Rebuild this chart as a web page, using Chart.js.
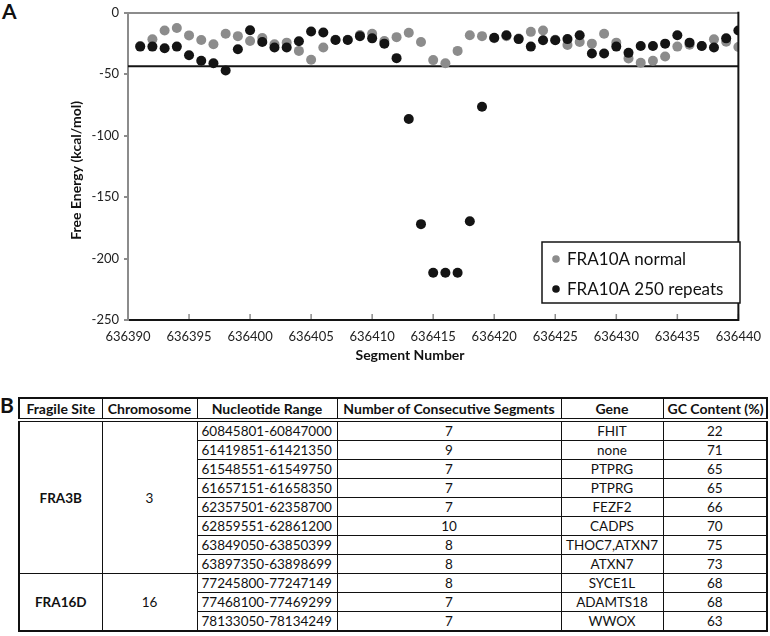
<!DOCTYPE html>
<html><head><meta charset="utf-8">
<script src="https://cdn.jsdelivr.net/npm/chart.js@4.4.1/dist/chart.umd.min.js"></script>
<style>
html,body{margin:0;padding:0;background:#fff;}
body{width:770px;height:636px;position:relative;overflow:hidden;font-family:Lato,sans-serif;color:#111;}
#c{position:absolute;left:0;top:0;}
.panel{position:absolute;font-weight:bold;font-size:21px;line-height:21px;}
table{position:absolute;left:18px;top:397px;border-collapse:collapse;table-layout:fixed;width:748px;font-size:13.5px;border:2px solid #111;}
td,th{border:1px solid #111;padding:0 4px;height:18px;line-height:18px;text-align:center;white-space:nowrap;overflow:hidden;}
th{height:19px;line-height:19px;border-bottom:4px double #111;font-size:14px;}
td.range{text-align:left;}
td.site{font-weight:bold;}
</style></head>
<body>
<div class="panel" style="left:2px;top:0px;">A</div>
<div class="panel" style="left:0px;top:394px;">B</div>
<canvas id="c" width="770" height="372"></canvas>
<table id="tbl"></table>
<script>
// ---- chart data ----
const segmentNumbers = [636391,636392,636393,636394,636395,636396,636397,636398,636399,636400,
  636401,636402,636403,636404,636405,636406,636407,636408,636409,636410,
  636411,636412,636413,636414,636415,636416,636417,636418,636419,636420,
  636421,636422,636423,636424,636425,636426,636427,636428,636429,636430,
  636431,636432,636433,636434,636435,636436,636437,636438,636439,636440];
const normalEnergy = [-27,-21.6,-14.4,-12.3,-18.4,-22.2,-25.6,-17.1,-19,-23,
  -20.6,-25.6,-24.3,-31,-38.2,-28.3,-22,-22,-18,-17.1,
  -23,-19.8,-16.3,-23.8,-38.5,-41.1,-31,-18.2,-19,-20.7,
  -19,-21,-15.5,-14.4,-22,-26.2,-23.8,-25.1,-17.1,-24.3,
  -37.1,-40.6,-39,-35.5,-27.5,-26,-27,-21.6,-23.5,-27.8];
const repeatsEnergy = [-27.5,-27.5,-28.8,-27.5,-34.5,-39,-41,-47,-29.6,-14.2,
  -23.8,-28.3,-28.3,-23.2,-15.2,-16,-22.2,-22.2,-19,-20.8,
  -25.1,-36.9,-86.4,-172,-211.5,-211.5,-211.5,-169.6,-76.4,-20.3,
  -18.2,-21.4,-27.5,-22.4,-22.4,-21.4,-18.2,-33.1,-33.1,-27.5,
  -32.6,-27,-27,-25.1,-18.2,-24.3,-27,-28.3,-20.8,-14.4];
const thresholdEnergy = -43.5;
const seriesLabels = ['FRA10A normal','FRA10A 250 repeats'];
const xRange = [636390, 636440];
const xStep = 5;
const yRange = [-250, 0];
const yStep = 50;
const xTitle = 'Segment Number';
const yTitle = 'Free Energy (kcal/mol)';

// ---- table data ----
const tableHeaders = ['Fragile Site','Chromosome','Nucleotide Range','Number of Consecutive Segments','Gene','GC Content (%)'];
const fragileSites = ['FRA3B','FRA16D'];
const chromosomes = ['3','16'];
const groupSizes = [8,3];
const nucleotideRanges = ['60845801-60847000','61419851-61421350','61548551-61549750','61657151-61658350',
  '62357501-62358700','62859551-62861200','63849050-63850399','63897350-63898699',
  '77245800-77247149','77468100-77469299','78133050-78134249'];
const consecutiveSegments = ['7','9','7','7','7','10','8','8','8','7','7'];
const genes = ['FHIT','none','PTPRG','PTPRG','FEZF2','CADPS','THOC7,ATXN7','ATXN7','SYCE1L','ADAMTS18','WWOX'];
const gcContent = ['22','71','65','65','66','70','75','73','68','68','63'];

// build table
(function(){
  const t = document.getElementById('tbl');
  const colW = [83,95,140,224,102,104];
  let cg = '<colgroup>' + colW.map(w=>'<col style="width:'+w+'px">').join('') + '</colgroup>';
  let h = cg + '<tr>' + tableHeaders.map(x=>'<th>'+x+'</th>').join('') + '</tr>';
  let r = 0;
  groupSizes.forEach((n,g)=>{
    for(let k=0;k<n;k++){
      h += '<tr>';
      if(k===0){
        h += '<td class="site" rowspan="'+n+'">'+fragileSites[g]+'</td><td rowspan="'+n+'">'+chromosomes[g]+'</td>';
      }
      h += '<td class="range">'+nucleotideRanges[r]+'</td><td>'+consecutiveSegments[r]+'</td><td>'+genes[r]+'</td><td>'+gcContent[r]+'</td></tr>';
      r++;
    }
  });
  t.innerHTML = h;
})();

const GRAY = '#8c8c8c', BLACK = '#141414';
const FONT = 'Lato, sans-serif';

const decor = {
  id:'decor',
  afterDraw(chart){
    const ctx = chart.ctx, a = chart.chartArea, xs = chart.scales.x;
    ctx.save();
    // inward x ticks
    ctx.strokeStyle = GRAY; ctx.lineWidth = 1.5;
    xs.ticks.forEach(t=>{
      const px = xs.getPixelForValue(t.value);
      ctx.beginPath(); ctx.moveTo(px, a.bottom-1); ctx.lineTo(px, a.bottom-6); ctx.stroke();
    });
    // right border
    ctx.strokeStyle = BLACK; ctx.lineWidth = 2;
    ctx.beginPath(); ctx.moveTo(a.right, a.top-1); ctx.lineTo(a.right, a.bottom+1); ctx.stroke();
    // legend
    const lx = 542, ly = 242, lw = 198, lh = 61;
    ctx.fillStyle = '#fff'; ctx.fillRect(lx, ly, lw, lh);
    ctx.strokeStyle = BLACK; ctx.lineWidth = 1.5; ctx.strokeRect(lx, ly, lw, lh);
    const cols = [GRAY, BLACK];
    ctx.font = '17px ' + FONT; ctx.textBaseline = 'middle'; ctx.textAlign = 'left';
    seriesLabels.forEach((lab,i)=>{
      const y = ly + 17 + i*30;
      ctx.fillStyle = cols[i];
      ctx.beginPath(); ctx.arc(lx+14, y, 3.8, 0, Math.PI*2); ctx.fill();
      ctx.fillStyle = '#111';
      ctx.fillText(lab, lx+25, y+1);
    });
    // axis titles
    ctx.fillStyle = '#111';
    ctx.font = 'bold 14px ' + FONT; ctx.textAlign = 'center';
    ctx.fillText(xTitle, 410, 355);
    ctx.translate(76, (a.top + a.bottom)/2 + 4);
    ctx.rotate(-Math.PI/2);
    ctx.fillText(yTitle, 0, 0);
    ctx.restore();
  }
};

new Chart(document.getElementById('c'), {
  type:'scatter',
  data:{
    datasets:[
      {label:seriesLabels[0], data:segmentNumbers.map((x,i)=>({x:x,y:normalEnergy[i]})),
       backgroundColor:GRAY, borderWidth:0, pointRadius:5, order:2},
      {label:seriesLabels[1], data:segmentNumbers.map((x,i)=>({x:x,y:repeatsEnergy[i]})),
       backgroundColor:BLACK, borderWidth:0, pointRadius:5, order:1},
      {type:'line', label:'threshold', data:[{x:xRange[0],y:thresholdEnergy},{x:xRange[1],y:thresholdEnergy}],
       borderColor:BLACK, borderWidth:2, pointRadius:0, order:3}
    ]
  },
  options:{
    responsive:false, animation:false, devicePixelRatio:1,
    layout:{padding:{left:0, top:8, right:28, bottom:0}},
    plugins:{legend:{display:false}, tooltip:{enabled:false}},
    scales:{
      x:{type:'linear', min:xRange[0], max:xRange[1],
         ticks:{stepSize:xStep, callback:v=>String(v), font:{family:FONT,size:13}, color:'#222', padding:9, maxRotation:0, autoSkip:false},
         grid:{drawOnChartArea:false, drawTicks:false},
         border:{color:BLACK, width:2},
         afterFit:s=>{s.height = 52;}},
      y:{min:yRange[0], max:yRange[1],
         ticks:{stepSize:yStep, callback:v=>String(v), font:{family:FONT,size:13}, color:'#222', padding:5},
         grid:{color:c=>(c.tick && c.tick.value===0)?GRAY:'rgba(0,0,0,0)', lineWidth:2, tickColor:GRAY, tickLength:4, drawTicks:true},
         border:{color:GRAY, width:2},
         afterFit:s=>{s.width = 128;}}
    }
  },
  plugins:[decor]
});
</script>
</body></html>
